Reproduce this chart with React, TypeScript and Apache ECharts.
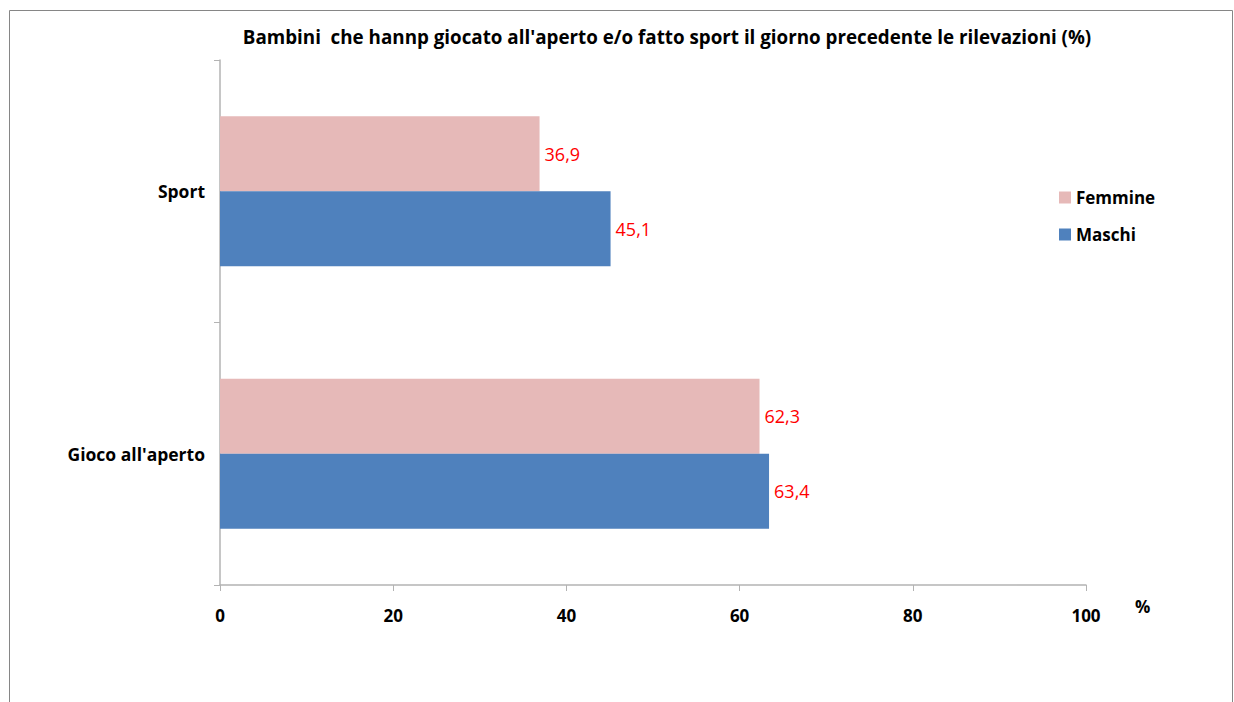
import React, { useEffect, useRef } from "react";
import * as echarts from "echarts";

const categories = ["Gioco all'aperto", "Sport"];
const femmine = [62.3, 36.9];
const maschi = [63.4, 45.1];
const xTicks = { min: 0, max: 100, interval: 20 };
const titleText = "Bambini  che hannp giocato all'aperto e/o fatto sport il giorno precedente le rilevazioni (%)";

const FONT = "'Open Sans', sans-serif";

export default function App() {
  const ref = useRef<HTMLDivElement>(null);
  useEffect(() => {
    document.body.style.margin = "0";
    const chart = echarts.init(ref.current!, null, { renderer: "svg" });
    const label = {
      show: true,
      position: "right",
      distance: 5,
      color: "#FF0000",
      fontSize: 18,
      fontFamily: FONT,
      formatter: (p: any) => String(p.value).replace(".", ","),
    };
    chart.setOption({
      animation: false,
      backgroundColor: "#ffffff",
      textStyle: { fontFamily: FONT },
      title: {
        text: titleText,
        left: 662,
        textAlign: "center",
        top: 22,
        textStyle: { fontSize: 18.8, fontWeight: "bold", color: "#000", fontFamily: FONT },
      },
      graphic: [
        {
          type: "rect",
          shape: { x: 9.5, y: 10.5, width: 1223, height: 720 },
          style: { fill: "none", stroke: "#868686", lineWidth: 1 },
          silent: true,
        },
      ],
      legend: {
        orient: "vertical",
        left: 1054,
        top: 184,
        itemWidth: 12,
        itemHeight: 12,
        itemGap: 20,
        icon: "rect",
        textStyle: { fontSize: 17, fontWeight: "bold", color: "#000", fontFamily: FONT },
        data: ["Femmine", "Maschi"],
      },
      grid: { left: 220, right: 148, top: 60, bottom: 117, containLabel: false },
      xAxis: {
        type: "value",
        min: xTicks.min,
        max: xTicks.max,
        interval: xTicks.interval,
        name: "%",
        nameLocation: "end",
        nameGap: 49,
        nameTextStyle: {
          fontSize: 17,
          fontWeight: "bold",
          color: "#000",
          fontFamily: FONT,
          verticalAlign: "top",
          padding: [13, 0, 0, 0],
        },
        axisLine: { show: true, lineStyle: { color: "#B3B3B3", width: 1.5 } },
        axisTick: { show: true, length: 6, lineStyle: { color: "#B3B3B3" } },
        splitLine: { show: false },
        axisLabel: { fontSize: 17, fontWeight: "bold", color: "#000", margin: 22, fontFamily: FONT },
      },
      yAxis: {
        type: "category",
        data: categories,
        axisLine: { show: true, lineStyle: { color: "#B3B3B3", width: 1.5 } },
        axisTick: { show: true, length: 6, lineStyle: { color: "#B3B3B3" } },
        axisLabel: { fontSize: 17.5, fontWeight: "bold", color: "#000", margin: 15, fontFamily: FONT },
      },
      series: [
        {
          name: "Femmine",
          type: "bar",
          data: femmine,
          barWidth: 75,
          barGap: "0%",
          itemStyle: { color: "#E6B9B8" },
          label,
        },
        {
          name: "Maschi",
          type: "bar",
          data: maschi,
          barWidth: 75,
          barGap: "0%",
          itemStyle: { color: "#4F81BD" },
          label,
        },
      ],
    });
    return () => chart.dispose();
  }, []);
  return (
    <div
      ref={ref}
      style={{ position: "absolute", left: 0, top: 0, width: 1234, height: 702 }}
    />
  );
}
